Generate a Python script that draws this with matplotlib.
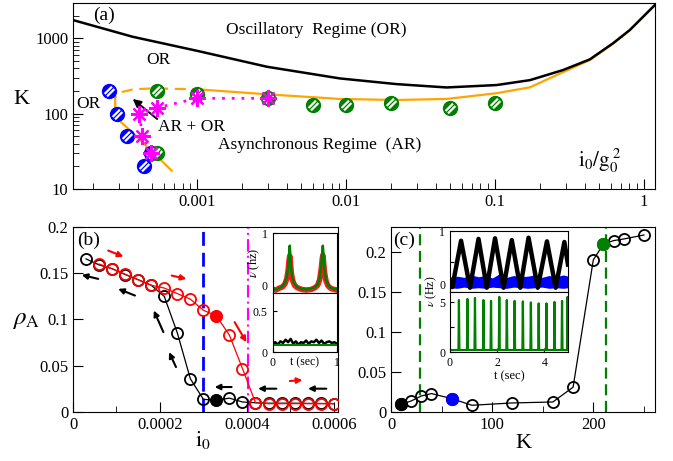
import numpy as np
import matplotlib
matplotlib.use('Agg')
import matplotlib.pyplot as plt
from matplotlib.path import Path

plt.rcParams['font.family'] = ['Liberation Serif', 'DejaVu Serif']
plt.rcParams['mathtext.fontset'] = 'stix'

# ---------------- data: panel (a) ----------------
or_x = [1.47e-4, 3.7e-4, 1e-3, 2.95e-3, 9.1e-3, 0.0219, 0.0474, 0.1026, 0.172, 0.286, 0.434, 0.62, 0.805, 1.186]
or_k = [1750, 1050, 684, 420, 294, 247, 223, 240, 279, 379, 526, 858, 1290, 2770]

ar_solid_x = [1e-3, 2.95e-3, 9.1e-3, 0.0219, 0.0474, 0.1026, 0.172, 0.286, 0.434, 0.62, 0.805, 1.186]
ar_solid_k = [211, 181, 157, 152, 157, 187, 224, 355, 515, 845, 1280, 2760]
ar_dash_x = [2.82e-4, 2.82e-4, 3.13e-4, 3.73e-4, 5.09e-4, 7.7e-4, 1e-3]
ar_dash_k = [124, 165, 194, 211, 217, 213, 211]
ar_low_x = [2.82e-4, 2.82e-4, 3.73e-4, 6.76e-4]
ar_low_k = [124, 91, 55, 17.5]

blue_x = [2.56e-4, 2.9e-4, 3.4e-4, 4.9e-4, 4.4e-4]
blue_k = [200, 100, 50, 30, 20]
green_x = [5.4e-4, 1e-3, 3e-3, 6e-3, 0.01, 0.02, 0.05, 0.1, 5.4e-4]
green_k = [200, 185, 160, 130, 130, 140, 120, 140, 30]
star_x = [4.9e-4, 4.3e-4, 4.1e-4, 5.4e-4, 1e-3, 3e-3]
star_k = [30, 50, 100, 120, 160, 160]

# ---------------- data: panel (b) ----------------
i0_black = [3e-5, 6e-5, 9e-5, 1.2e-4, 1.5e-4, 1.8e-4, 2.1e-4, 2.4e-4, 2.7e-4, 3.0e-4,
            3.3e-4, 3.6e-4, 3.9e-4, 4.2e-4, 4.5e-4, 4.8e-4, 5.1e-4, 5.4e-4, 5.7e-4, 6.0e-4]
rho_black = [0.1655, 0.159, 0.155, 0.1486, 0.143, 0.137, 0.125, 0.0856, 0.036, 0.0137,
             0.0126, 0.015, 0.0108, 0.010, 0.0095, 0.0095, 0.0095, 0.0093, 0.0092, 0.009]
i0_red = [6e-5, 9e-5, 1.2e-4, 1.5e-4, 1.8e-4, 2.1e-4, 2.4e-4, 2.7e-4, 3.0e-4, 3.3e-4,
          3.6e-4, 3.9e-4, 4.2e-4, 4.5e-4, 4.8e-4, 5.1e-4, 5.4e-4, 5.7e-4, 6.0e-4]
rho_red = [0.160, 0.1547, 0.149, 0.143, 0.137, 0.134, 0.128, 0.122, 0.110, 0.104,
           0.083, 0.047, 0.010, 0.009, 0.009, 0.009, 0.009, 0.009, 0.009]
filled_i0 = 3.3e-4

# inset (b)
tb = [0, 0.05, 0.1, 0.15, 0.19, 0.22, 0.24, 0.255, 0.265, 0.275, 0.29, 0.31, 0.34, 0.38, 0.45,
      0.52, 0.6, 0.66, 0.7, 0.73, 0.755, 0.77, 0.78, 0.79, 0.805, 0.83, 0.86, 0.9, 0.95, 1.0]
nu_green_b = [0.06, 0.06, 0.08, 0.11, 0.17, 0.27, 0.42, 0.65, 0.79, 0.62, 0.38, 0.24, 0.15, 0.1, 0.07,
              0.06, 0.07, 0.1, 0.15, 0.25, 0.45, 0.67, 0.79, 0.64, 0.4, 0.22, 0.14, 0.09, 0.07, 0.06]
nu_red_b = [0.06, 0.05, 0.08, 0.10, 0.15, 0.24, 0.38, 0.55, 0.62, 0.52, 0.33, 0.21, 0.13, 0.09, 0.06,
            0.05, 0.06, 0.09, 0.13, 0.22, 0.40, 0.56, 0.63, 0.54, 0.35, 0.2, 0.12, 0.08, 0.06, 0.05]
tb2 = [0, 0.04, 0.08, 0.12, 0.16, 0.2, 0.24, 0.28, 0.32, 0.36, 0.4, 0.44, 0.48, 0.52, 0.56, 0.6,
       0.64, 0.68, 0.72, 0.76, 0.8, 0.84, 0.88, 0.92, 0.96, 1.0]
nu_black_b = [0.10, 0.12, 0.09, 0.13, 0.11, 0.15, 0.12, 0.16, 0.10, 0.13, 0.09, 0.12, 0.11, 0.14,
              0.10, 0.13, 0.12, 0.15, 0.11, 0.14, 0.10, 0.12, 0.13, 0.11, 0.12, 0.10]
nu_green_b2 = 0.09

# ---------------- data: panel (c) ----------------
K_c = [10, 20, 30, 40, 60, 80, 120, 160, 180, 200, 210, 220, 230, 250]
rho_c = [0.0096, 0.0138, 0.020, 0.023, 0.0167, 0.0084, 0.0113, 0.0125, 0.031, 0.19, 0.2096, 0.214, 0.216, 0.221]
K_black_fill = 10
K_blue_fill = 60
K_green_fill = 210
K_lines = [29, 213]

# inset (c)
tc = [0, 0.1, 0.47, 0.85, 1.21, 1.56, 1.91, 2.27, 2.62, 2.98, 3.33, 3.72, 4.11, 4.48, 4.85, 5.0]
nu_black_c = [0.2, 0.08, 0.84, 0.07, 0.87, 0.07, 0.88, 0.07, 0.85, 0.07, 0.89, 0.07, 0.83, 0.07, 0.82, 0.45]
tc_blue = [0, 0.3, 0.6, 0.9, 1.2, 1.5, 1.8, 2.1, 2.4, 2.7, 3.0, 3.3, 3.6, 3.9, 4.2, 4.5, 4.8, 5.0]
nu_blue_hi = [0.22, 0.26, 0.24, 0.28, 0.25, 0.27, 0.23, 0.30, 0.24, 0.27, 0.25, 0.26, 0.28, 0.24, 0.27, 0.25, 0.28, 0.26]
nu_blue_lo = [0.07, 0.06, 0.08, 0.06, 0.07, 0.06, 0.08, 0.07, 0.06, 0.08, 0.07, 0.06, 0.07, 0.08, 0.06, 0.07, 0.06, 0.07]
spike_t = [0.38, 0.74, 1.06, 1.42, 1.74, 2.09, 2.41, 2.74, 3.09, 3.43, 3.76, 4.09, 4.43, 4.75, 4.98]
spike_h = [5.24, 5.35, 5.45, 5.24, 5.15, 5.55, 5.24, 5.15, 5.1, 5.0, 4.9, 4.9, 5.05, 5.15, 5.55]
spike_base = 0.2

# ---------------- figure ----------------
fig = plt.figure(figsize=(6.73, 4.61), dpi=100)

def style(ax, fs=12):
    ax.tick_params(which='both', direction='in', labelsize=fs)
    ax.tick_params(which='major', length=7)
    ax.tick_params(which='minor', length=4)

# stripe marker
d = 0.3
L = np.sqrt(1 - d * d) * 0.95
u = np.array([0.7071, 0.7071]); p = np.array([-0.7071, 0.7071])
verts = []
for s in (d, -d):
    c = s * p
    verts += [tuple(c - L * u), tuple(c + L * u)]
stripe = Path(verts, [Path.MOVETO, Path.LINETO, Path.MOVETO, Path.LINETO])
maxabs = np.max(np.abs(np.array(verts)))

def hatched(ax, x, y, color, ms=10):
    ax.plot(x, y, 'o', ms=ms, mfc=color, mec=color, ls='none', zorder=5)
    ax.plot(x, y, marker=stripe, ms=ms * maxabs * 0.82, mec='white', mfc='none', mew=1.6,
            ls='none', zorder=6)

def arrow(ax, s, e, color):
    ax.annotate('', xy=e, xytext=s,
                arrowprops=dict(arrowstyle='-|>', color=color, lw=1.5, mutation_scale=8,
                                shrinkA=0, shrinkB=0))

# ---- panel (a)
ax_a = fig.add_axes([0.1085, 0.590, 0.8648, 0.4035])
ax_a.set_xscale('log'); ax_a.set_yscale('log')
ax_a.set_xlim(1.47e-4, 1.19); ax_a.set_ylim(10, 2950)
ax_a.plot(or_x, or_k, color='black', lw=1.8, zorder=3)
ax_a.plot(ar_solid_x, ar_solid_k, color='orange', lw=1.6, zorder=2)
ax_a.plot(ar_dash_x, ar_dash_k, color='orange', lw=1.6, ls=(0, (5, 3)), zorder=2)
ax_a.plot(ar_low_x, ar_low_k, color='orange', lw=1.6, zorder=2)
hatched(ax_a, blue_x, blue_k, 'blue')
hatched(ax_a, green_x, green_k, 'green')
ax_a.plot(star_x, star_k, color='magenta', ls=(0, (1, 2.5)), lw=2, marker=(8, 2, 0), ms=12, mew=1.6, zorder=7)
ax_a.annotate('', xy=(3.7e-4, 157), xytext=(5.4e-4, 85),
              arrowprops=dict(arrowstyle='-|>', color='black', lw=1.4, mutation_scale=12,
                              shrinkA=0, shrinkB=0))
ax_a.set_xticks([1e-3, 1e-2, 1e-1, 1])
ax_a.set_xticklabels(['0.001', '0.01', '0.1', '1'])
ax_a.set_yticks([10, 100, 1000])
ax_a.set_yticklabels(['10', '100', '1000'])
ax_a.xaxis.set_minor_formatter(matplotlib.ticker.NullFormatter())
ax_a.yaxis.set_minor_formatter(matplotlib.ticker.NullFormatter())
style(ax_a)
ta = ax_a.transAxes
ax_a.text(0.034, 0.935, '(a)', transform=ta, fontsize=14, va='center')
ax_a.text(0.418, 0.855, 'Oscillatory  Regime (OR)', transform=ta, fontsize=12.5, ha='center', va='center')
ax_a.text(0.146, 0.694, 'OR', transform=ta, fontsize=12.5, ha='center', va='center')
ax_a.text(0.027, 0.457, 'OR', transform=ta, fontsize=12.5, ha='center', va='center')
ax_a.text(0.146, 0.333, 'AR + OR', transform=ta, fontsize=12.5, ha='left', va='center')
ax_a.text(0.4235, 0.237, 'Asynchronous Regime  (AR)', transform=ta, fontsize=12.5, ha='center', va='center')
ax_a.text(0.905, 0.15, r'$\mathrm{i_0/g_0^{\ 2}}$', transform=ta, fontsize=15, ha='center', va='center')
fig.text(21 / 673, 1 - 99 / 461, 'K', fontsize=16, ha='center', va='center')

# ---- panel (b)
ax_b = fig.add_axes([0.1085, 0.1063, 0.3938, 0.4013])
ax_b.set_xlim(0, 6.1e-4); ax_b.set_ylim(0, 0.2)
ax_b.axvline(3.0e-4, color='blue', ls=(0, (5, 2.5)), lw=2, zorder=1)
ax_b.axvline(4.02e-4, color='magenta', ls=(0, (6, 2, 1, 2)), lw=1.5, zorder=1)
ax_b.plot(i0_black, rho_black, color='black', lw=0.9, marker='o', ms=8, mfc='none', mew=1.3, zorder=3)
ax_b.plot(i0_red, rho_red, color='red', lw=0.9, marker='o', ms=8, mfc='none', mew=1.3, zorder=4)
ax_b.plot([filled_i0], [rho_black[i0_black.index(filled_i0)]], 'o', color='black', ms=8, zorder=5)
ax_b.plot([filled_i0], [rho_red[i0_red.index(filled_i0)]], 'o', color='red', ms=8, zorder=5)
red_arrows = [((8.1e-5, 0.1745), (1.16e-4, 0.168)), ((2.27e-4, 0.1475), (2.61e-4, 0.1439)),
              ((3.72e-4, 0.0971), (3.99e-4, 0.0755)), ((4.99e-4, 0.0335), (5.28e-4, 0.0345))]
black_arrows = [((5.8e-5, 0.1439), (2.0e-5, 0.1482)), ((1.425e-4, 0.1259), (1.04e-4, 0.1331)),
                ((2.08e-4, 0.0863), (1.86e-4, 0.1097)), ((2.37e-4, 0.0486), (2.21e-4, 0.0647)),
                ((3.65e-4, 0.027), (3.26e-4, 0.027)), ((4.68e-4, 0.0252), (4.26e-4, 0.0252)),
                ((5.83e-4, 0.0252), (5.41e-4, 0.0252))]
for (s, e) in red_arrows:
    arrow(ax_b, s, e, 'red')
for (s, e) in black_arrows:
    arrow(ax_b, s, e, 'black')
ax_b.set_xticks([0, 2e-4, 4e-4, 6e-4])
ax_b.set_xticklabels(['0', '0.0002', '0.0004', '0.0006'])
ax_b.set_xticks([1e-4, 3e-4, 5e-4], minor=True)
ax_b.set_yticks([0, 0.05, 0.1, 0.15, 0.2])
ax_b.set_yticklabels(['0', '0.05', '0.1', '0.15', '0.2'])
style(ax_b)
ax_b.text(0.015, 0.93, '(b)', transform=ax_b.transAxes, fontsize=14, va='center')
fig.text(26 / 673, 1 - 320 / 461, r'$\rho_{\rm A}$', fontsize=18, ha='center', va='center')
fig.text(203 / 673, 1 - 440 / 461, r'$\mathrm{i_0}$', fontsize=16, ha='center', va='center')

# inset (b)
bi1 = fig.add_axes([0.4052, 0.3644, 0.0955, 0.130])
bi1.plot(tb, nu_red_b, color='red', lw=4, alpha=0.9)
bi1.plot(tb, nu_green_b, color='green', lw=1.8)
bi1.set_xlim(0, 1); bi1.set_ylim(0, 1)
bi1.set_xticks([]); bi1.set_yticks([0, 1]); bi1.set_yticklabels(['0', '1'])
style(bi1, 8.5); bi1.tick_params(length=3)
bi1.get_yticklabels()[0].set_va('bottom')
bi1.set_ylabel(r'$\nu$ (hz)', fontsize=9, labelpad=0)
bi2 = fig.add_axes([0.4052, 0.2364, 0.0955, 0.128])
bi2.plot(tb2, nu_black_b, color='black', lw=1.8)
bi2.axhline(nu_green_b2, color='green', lw=1.5)
bi2.set_xlim(0, 1); bi2.set_ylim(0, 0.72)
bi2.set_xticks([0, 1]); bi2.set_xticklabels(['0', '1'])
bi2.set_yticks([0, 0.5]); bi2.set_yticklabels(['0', '0.5'])
style(bi2, 8.5); bi2.tick_params(length=3)
bi2.text(0.5, -0.17, 't (sec)', transform=bi2.transAxes, fontsize=8.5, ha='center', va='center')

# ---- panel (c)
ax_c = fig.add_axes([0.581, 0.1063, 0.3923, 0.4013])
ax_c.set_xlim(0, 261); ax_c.set_ylim(0, 0.231)
for kl in K_lines:
    ax_c.axvline(kl, color='green', ls=(0, (5, 2.5)), lw=1.6, zorder=1)
ax_c.plot(K_c, rho_c, color='black', lw=0.9, marker='o', ms=8, mfc='none', mew=1.3, zorder=3)
for kf, col in ((K_black_fill, 'black'), (K_blue_fill, 'blue'), (K_green_fill, 'green')):
    ax_c.plot([kf], [rho_c[K_c.index(kf)]], 'o', color=col, ms=8.5, zorder=5)
ax_c.set_xticks([0, 100, 200]); ax_c.set_xticklabels(['0', '100', '200'])
ax_c.set_xticks([50, 150, 250], minor=True)
ax_c.set_yticks([0, 0.05, 0.1, 0.15, 0.2])
ax_c.set_yticklabels(['0', '0.05', '0.1', '0.15', '0.2'])
style(ax_c)
ax_c.text(0.008, 0.93, '(c)', transform=ax_c.transAxes, fontsize=14, va='center')
fig.text(523 / 673, 1 - 443 / 461, 'K', fontsize=16, ha='center', va='center')

# inset (c)
ci1 = fig.add_axes([0.6686, 0.3666, 0.1753, 0.1323])
ci1.fill_between(tc_blue, nu_blue_lo, nu_blue_hi, color='blue', lw=0)
ci1.plot(tc, nu_black_c, color='black', lw=3.2)
ci1.set_xlim(0, 5); ci1.set_ylim(0, 1)
ci1.set_xticks([]); ci1.set_yticks([0, 0.5, 1]); ci1.set_yticklabels(['0', '', '1'])
style(ci1, 8.5); ci1.tick_params(length=3)
ci1.get_yticklabels()[0].set_va('bottom')
ci2 = fig.add_axes([0.6686, 0.2364, 0.1753, 0.1302])
sx, sy = [0], [spike_base]
for t, h in zip(spike_t, spike_h):
    sx += [t - 0.02, t, t + 0.02]
    sy += [spike_base, h, spike_base]
sx.append(5); sy.append(spike_base)
ci2.plot(sx, sy, color='green', lw=1.6)
ci2.set_xlim(0, 5); ci2.set_ylim(0, 6.05)
ci2.set_xticks([0, 2, 4]); ci2.set_xticklabels(['0', '2', '4'])
ci2.set_yticks([0, 2.5, 5]); ci2.set_yticklabels(['0', '', '5'])
style(ci2, 8.5); ci2.tick_params(length=3)
ci2.set_xlabel('t (sec)', fontsize=9, labelpad=1)
fig.text(431 / 673, 1 - 291 / 461, r'$\nu$ (Hz)', fontsize=8.5, rotation=90, ha='center', va='center')

fig.savefig('out.png', dpi=100)
